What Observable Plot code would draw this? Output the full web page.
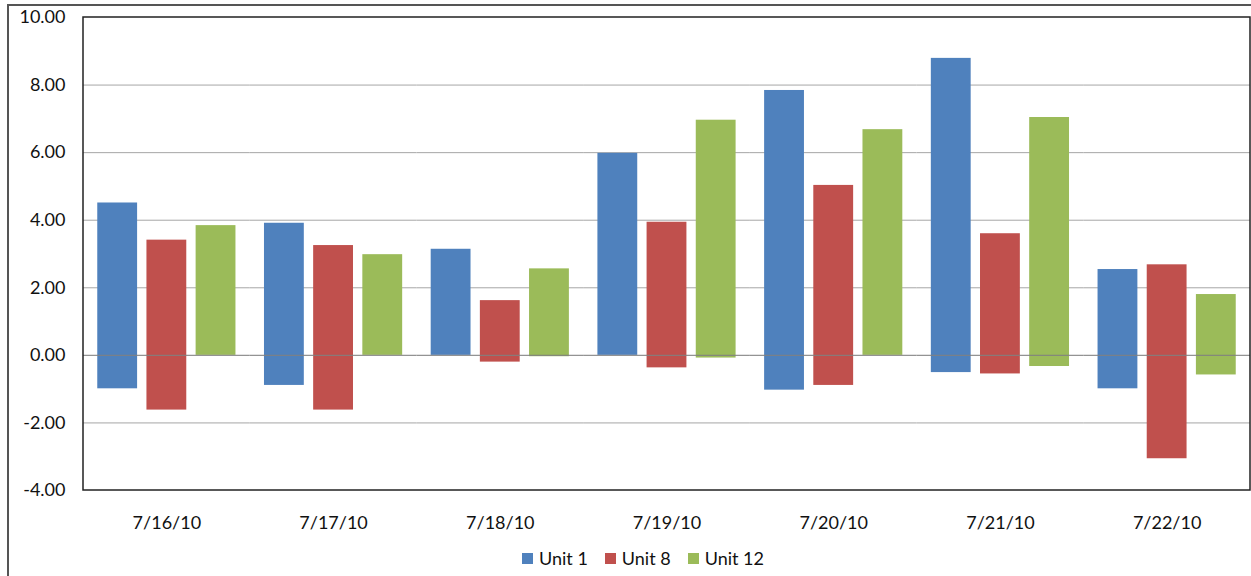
<!DOCTYPE html>
<html>
<head>
<meta charset="utf-8">
<script src="https://cdn.jsdelivr.net/npm/d3@7"></script>
<script src="https://cdn.jsdelivr.net/npm/@observablehq/plot@0.6"></script>
<style>
  html, body { margin: 0; padding: 0; background: #fff; width: 1251px; height: 576px; overflow: hidden; }
  #border { position: absolute; left: 7px; top: 4px; width: 1270px; height: 620px; border: 2px solid #555; box-sizing: border-box; }
  #chart { position: absolute; left: 0; top: 0; }
  #legend { position: absolute; left: 522px; top: 547px; font-family: Lato, sans-serif; font-size: 18px; color: #111; display: flex; align-items: center; white-space: nowrap; }
  #legend .item { display: flex; align-items: center; margin-right: 17px; }
  #legend .sw { width: 11px; height: 11px; margin-right: 6px; }
</style>
</head>
<body>
<div id="border"></div>
<div id="chart"></div>
<div id="legend"></div>
<script>
const dates = ["7/16/10", "7/17/10", "7/18/10", "7/19/10", "7/20/10", "7/21/10", "7/22/10"];
const units = ["Unit 1", "Unit 8", "Unit 12"];
const colors = ["#4F81BD", "#C0504D", "#9BBB59"];

const unit1High = [4.51, 3.91, 3.14, 5.98, 7.84, 8.79, 2.54];
const unit1Low = [-0.99, -0.89, 0.00, 0.00, -1.03, -0.51, -0.99];
const unit8High = [3.41, 3.25, 1.62, 3.94, 5.03, 3.60, 2.68];
const unit8Low = [-1.62, -1.62, -0.20, -0.37, -0.89, -0.55, -3.06];
const unit12High = [3.84, 2.98, 2.56, 6.96, 6.68, 7.04, 1.80];
const unit12Low = [0.00, 0.00, -0.04, -0.08, 0.00, -0.33, -0.58];

const yTicks = [-4, -2, 0, 2, 4, 6, 8, 10];
const gridTicks = [-2, 2, 4, 6, 8];

const highs = [unit1High, unit8High, unit12High];
const lows = [unit1Low, unit8Low, unit12Low];
const rows = [];
dates.forEach((d, i) => {
  units.forEach((u, j) => {
    rows.push({date: d, unit: u, high: highs[j][i], low: lows[j][i]});
  });
});

const chart = Plot.plot({
  width: 1251,
  height: 540,
  marginLeft: 83,
  marginRight: 1,
  marginTop: 17,
  marginBottom: 50,
  style: {fontFamily: "Lato, sans-serif", fontSize: "18px", color: "#111", background: "transparent", overflow: "visible"},
  facet: {data: rows, x: "date", label: null},
  fx: {domain: dates, padding: 0, round: false, label: null, tickSize: 0, tickPadding: 26},
  x: {domain: units, paddingInner: 0.19, paddingOuter: 0.29, round: false, axis: null},
  y: {domain: [-4, 10], ticks: yTicks, tickFormat: d => d.toFixed(2), tickSize: 0, tickPadding: 18, label: null},
  color: {domain: units, range: colors},
  marks: [
    Plot.ruleY(gridTicks, {stroke: "#a6a6a6", strokeWidth: 1}),
    Plot.barY(rows, {x: "unit", y1: "low", y2: "high", fill: "unit"}),
    Plot.ruleY([0], {stroke: "#808080", strokeOpacity: 0.85, strokeWidth: 1.2})
  ]
});

document.getElementById("chart").appendChild(chart);

// plot-area frame from the scales
const fxS = chart.scale("fx");
const yS = chart.scale("y");
const x0 = fxS.range ? Math.min(...fxS.range) : 83;
const x1 = fxS.range ? Math.max(...fxS.range) : 1250;
const yTop = yS.apply(yS.domain[1]);
const yBot = yS.apply(yS.domain[0]);
d3.select(chart).append("rect")
  .attr("x", x0).attr("y", yTop)
  .attr("width", x1 - x0).attr("height", yBot - yTop)
  .attr("fill", "none").attr("stroke", "#222").attr("stroke-width", 1.5);

// legend
const legend = d3.select("#legend");
units.forEach((u, i) => {
  const item = legend.append("div").attr("class", "item");
  item.append("div").attr("class", "sw").style("background", colors[i]);
  item.append("span").text(u);
});
</script>
</body>
</html>
